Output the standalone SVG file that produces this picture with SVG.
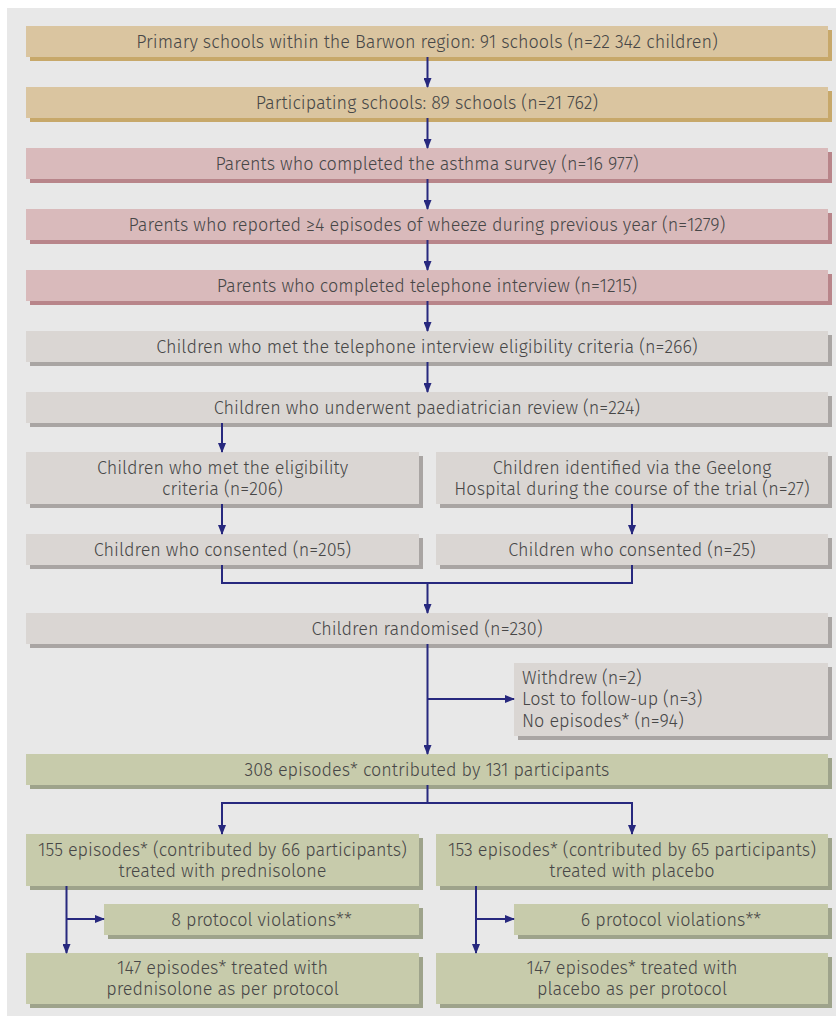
<svg xmlns="http://www.w3.org/2000/svg" width="836" height="1016" viewBox="0 0 836 1016">
<style>
text{font-family:"Fira Sans","Open Sans","Noto Sans","Liberation Sans",sans-serif;font-size:18px;font-weight:300;fill:#474747;text-anchor:middle}
.l{text-anchor:start}
.tan{fill:#dac5a0}.tanS{fill:#c7a86a}
.pink{fill:#d9babb}.pinkS{fill:#b8858a}
.grey{fill:#dad6d3}.greyS{fill:#a9a5a3}
.green{fill:#c7cbab}.greenS{fill:#9ea38b}
.c{fill:none;stroke:#27287e;stroke-width:2}
</style>
<defs>
<marker id="ah" markerWidth="10" markerHeight="8" refX="9" refY="4" orient="auto" markerUnits="userSpaceOnUse">
<path d="M0,0 L10,4 L0,8 Z" fill="#27287e"/>
</marker>
</defs>
<rect x="0" y="0" width="836" height="1016" fill="#ffffff"/>
<rect x="7" y="8" width="829" height="1008" fill="#e8e8e8"/>

<g id="n1"><rect class="tanS" x="30" y="30" width="802" height="31"/><rect class="tan" x="26" y="26" width="802" height="31"/><text x="427" y="47.5">Primary schools within the Barwon region: 91 schools (n=22 342 children)</text></g>
<g id="n2"><rect class="tanS" x="30" y="91" width="802" height="31"/><rect class="tan" x="26" y="87" width="802" height="31"/><text x="427" y="108.5">Participating schools: 89 schools (n=21 762)</text></g>
<g id="n3"><rect class="pinkS" x="30" y="152" width="802" height="31"/><rect class="pink" x="26" y="148" width="802" height="31"/><text x="427" y="169.5">Parents who completed the asthma survey (n=16 977)</text></g>
<g id="n4"><rect class="pinkS" x="30" y="213" width="802" height="31"/><rect class="pink" x="26" y="209" width="802" height="31"/><text x="427" y="230.5">Parents who reported ≥4 episodes of wheeze during previous year (n=1279)</text></g>
<g id="n5"><rect class="pinkS" x="30" y="274" width="802" height="31"/><rect class="pink" x="26" y="270" width="802" height="31"/><text x="427" y="291.5">Parents who completed telephone interview (n=1215)</text></g>
<g id="n6"><rect class="greyS" x="30" y="335" width="802" height="31"/><rect class="grey" x="26" y="331" width="802" height="31"/><text x="427" y="352.5">Children who met the telephone interview eligibility criteria (n=266)</text></g>
<g id="n7"><rect class="greyS" x="30" y="396" width="802" height="31"/><rect class="grey" x="26" y="392" width="802" height="31"/><text x="427" y="413.5">Children who underwent paediatrician review (n=224)</text></g>
<g id="n8a"><rect class="greyS" x="30" y="456" width="393" height="52"/><rect class="grey" x="26" y="452" width="393" height="52"/><text x="222.5" y="474">Children who met the eligibility</text><text x="222.5" y="495">criteria (n=206)</text></g>
<g id="n8b"><rect class="greyS" x="440" y="456" width="392" height="52"/><rect class="grey" x="436" y="452" width="392" height="52"/><text x="632" y="474">Children identified via the Geelong</text><text x="632" y="495">Hospital during the course of the trial (n=27)</text></g>
<g id="n9a"><rect class="greyS" x="30" y="538" width="393" height="31"/><rect class="grey" x="26" y="534" width="393" height="31"/><text x="222.5" y="555.5">Children who consented (n=205)</text></g>
<g id="n9b"><rect class="greyS" x="440" y="538" width="392" height="31"/><rect class="grey" x="436" y="534" width="392" height="31"/><text x="632" y="555.5">Children who consented (n=25)</text></g>
<g id="n10"><rect class="greyS" x="30" y="617" width="802" height="31"/><rect class="grey" x="26" y="613" width="802" height="31"/><text x="427" y="634.5">Children randomised (n=230)</text></g>
<g id="n11"><rect class="greyS" x="518" y="667" width="314" height="73"/><rect class="grey" x="514" y="663" width="314" height="73"/><text class="l" x="522" y="683.5">Withdrew (n=2)</text><text class="l" x="522" y="705">Lost to follow-up (n=3)</text><text class="l" x="522" y="726.5">No episodes* (n=94)</text></g>
<g id="n12"><rect class="greenS" x="30" y="758" width="802" height="31"/><rect class="green" x="26" y="754" width="802" height="31"/><text x="427" y="775.5">308 episodes* contributed by 131 participants</text></g>
<g id="n13a"><rect class="greenS" x="30" y="838" width="393" height="52"/><rect class="green" x="26" y="834" width="393" height="52"/><text x="222.5" y="855.5">155 episodes* (contributed by 66 participants)</text><text x="222.5" y="876.5">treated with prednisolone</text></g>
<g id="n13b"><rect class="greenS" x="440" y="838" width="392" height="52"/><rect class="green" x="436" y="834" width="392" height="52"/><text x="632" y="855.5">153 episodes* (contributed by 65 participants)</text><text x="632" y="876.5">treated with placebo</text></g>
<g id="n14a"><rect class="greenS" x="108" y="908" width="315" height="31"/><rect class="green" x="104" y="904" width="315" height="31"/><text x="261.5" y="925.5">8 protocol violations**</text></g>
<g id="n14b"><rect class="greenS" x="518" y="908" width="314" height="31"/><rect class="green" x="514" y="904" width="314" height="31"/><text x="671" y="925.5">6 protocol violations**</text></g>
<g id="n15a"><rect class="greenS" x="30" y="957" width="393" height="51"/><rect class="green" x="26" y="953" width="393" height="51"/><text x="222.5" y="974">147 episodes* treated with</text><text x="222.5" y="995">prednisolone as per protocol</text></g>
<g id="n15b"><rect class="greenS" x="440" y="957" width="392" height="51"/><rect class="green" x="436" y="953" width="392" height="51"/><text x="632" y="974">147 episodes* treated with</text><text x="632" y="995">placebo as per protocol</text></g>

<g id="connectors">
<path class="c" d="M427.5,57 V87" marker-end="url(#ah)"/>
<path class="c" d="M427.5,118 V148" marker-end="url(#ah)"/>
<path class="c" d="M427.5,179 V209" marker-end="url(#ah)"/>
<path class="c" d="M427.5,240 V270" marker-end="url(#ah)"/>
<path class="c" d="M427.5,301 V331" marker-end="url(#ah)"/>
<path class="c" d="M427.5,362 V392" marker-end="url(#ah)"/>
<path class="c" d="M222,423 V452" marker-end="url(#ah)"/>
<path class="c" d="M222,504 V534" marker-end="url(#ah)"/>
<path class="c" d="M632,504 V534" marker-end="url(#ah)"/>
<path class="c" d="M222,565 V583 H632 V565"/>
<path class="c" d="M427.5,583 V613" marker-end="url(#ah)"/>
<path class="c" d="M427.5,644 V754" marker-end="url(#ah)"/>
<path class="c" d="M427.5,699 H514" marker-end="url(#ah)"/>
<path class="c" d="M427.5,785 V803"/>
<path class="c" d="M222,834 V803 H632 V834" marker-end="url(#ah)"/>
<path class="c" d="M222,803 V834" marker-end="url(#ah)"/>
<path class="c" d="M66.5,886 V953" marker-end="url(#ah)"/>
<path class="c" d="M66.5,919 H104" marker-end="url(#ah)"/>
<path class="c" d="M476,886 V953" marker-end="url(#ah)"/>
<path class="c" d="M476,919 H514" marker-end="url(#ah)"/>
</g>
</svg>
